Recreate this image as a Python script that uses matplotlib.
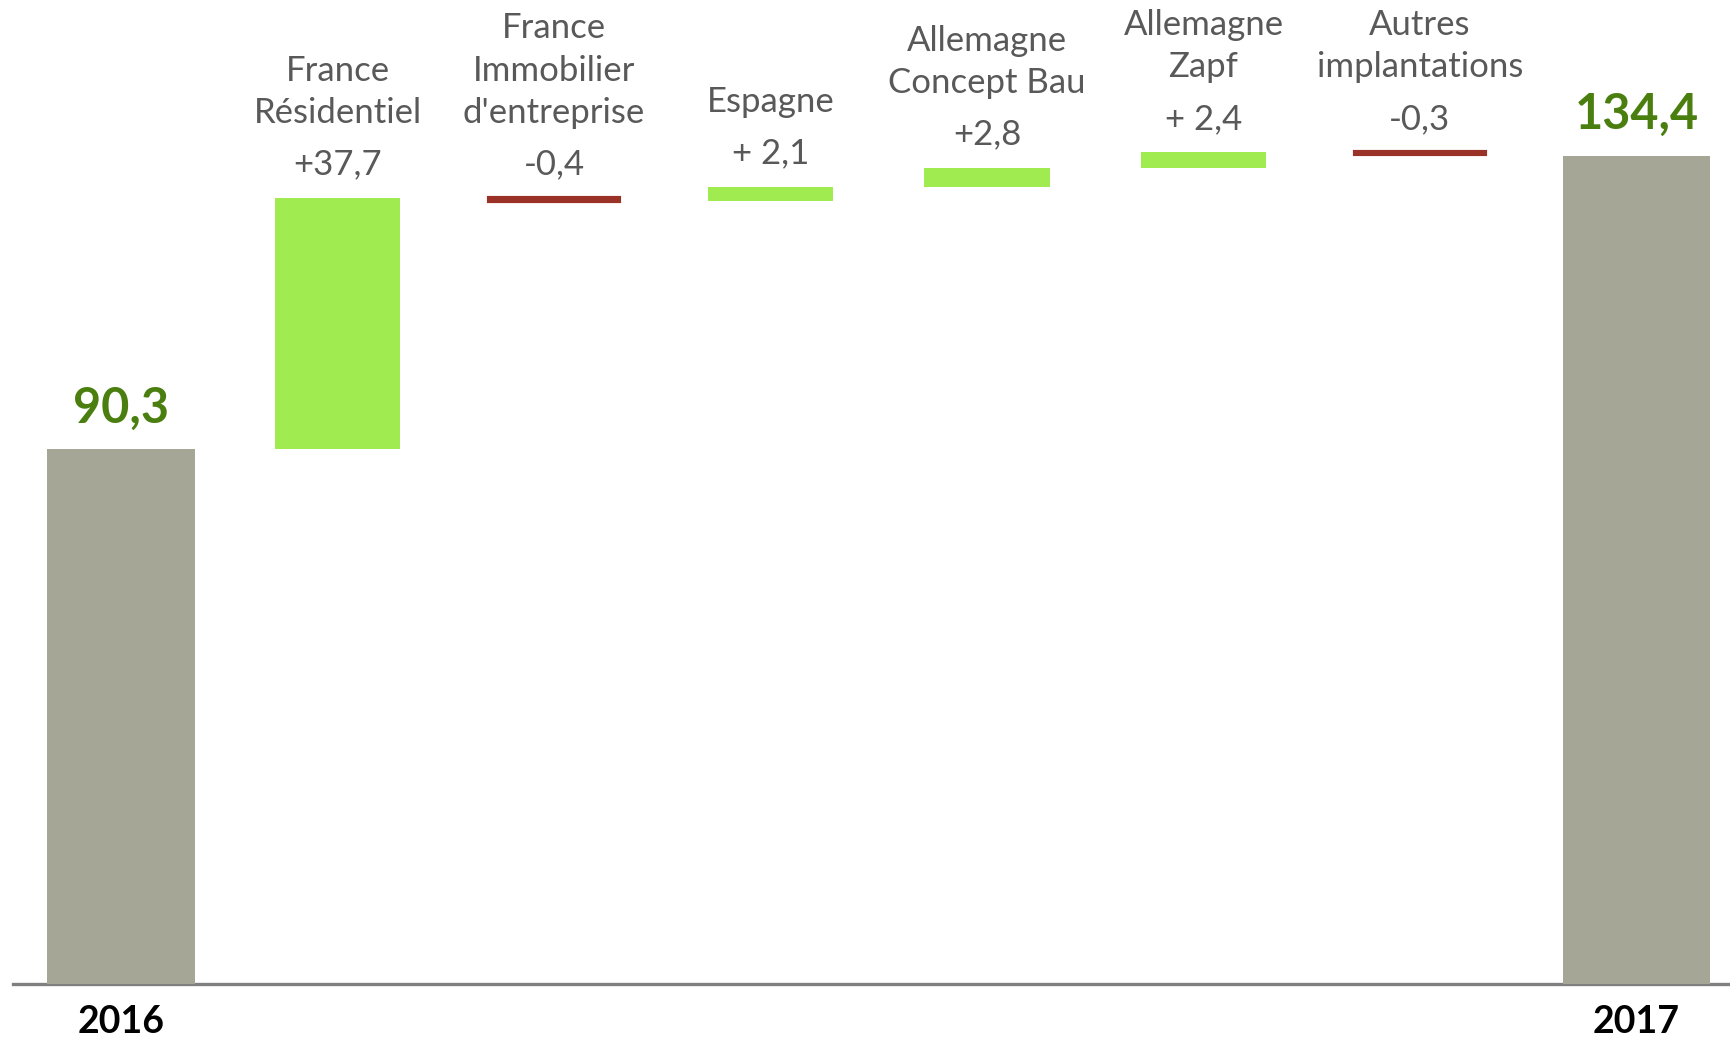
import matplotlib.pyplot as plt
import numpy as np

plt.rcParams['font.family'] = ['Lato', 'DejaVu Sans']

# Waterfall data (millions)
start_label = '2016'
end_label = '2017'
start_value = 90.3
end_value = 134.4
steps = ['France\nRésidentiel', 'France\nImmobilier\nd\'entreprise', 'Espagne',
         'Allemagne\nConcept Bau', 'Allemagne\nZapf', 'Autres\nimplantations']
deltas = [37.7, -0.4, 2.1, 2.8, 2.4, -0.3]
delta_labels = ['+37,7', '-0,4', '+ 2,1', '+2,8', '+ 2,4', '-0,3']
total_labels = ['90,3', '134,4']

grey = '#a6a696'
green = '#a0eb50'
red = '#9b3228'
dark_green = '#4a7f10'
text_grey = '#595959'

fig = plt.figure(figsize=(17.3, 10.39), dpi=100)
ax = fig.add_axes([0.0075, 0.0529, 0.9925, 0.9471])

n = len(steps) + 2
x = np.arange(n)

# Totals
ax.bar([0, n - 1], [start_value, end_value], width=0.68, color=grey, zorder=2)
for xi, v, lab in zip([0, n - 1], [start_value, end_value], total_labels):
    ax.annotate(lab, (xi, v), xytext=(0, 19), textcoords='offset points',
                ha='center', va='baseline', fontsize=35, fontweight='bold',
                color=dark_green)

# Steps
cum = start_value
for i, (name, d, lab) in enumerate(zip(steps, deltas, delta_labels)):
    xi = x[i + 1]
    if d >= 0:
        ax.bar(xi, d, bottom=cum, width=0.58, color=green, zorder=2)
        top = cum + d
    else:
        ax.bar(xi, -d, bottom=cum + d, width=0.6, color=red, edgecolor=red,
               linewidth=3, zorder=2)
        top = cum
    ax.annotate(lab, (xi, top), xytext=(0, 17), textcoords='offset points',
                ha='center', va='baseline', fontsize=25, color=text_grey)
    ax.annotate(name, (xi, top), xytext=(0, 54), textcoords='offset points',
                ha='center', va='baseline', fontsize=25, color=text_grey,
                linespacing=1.4, multialignment='center')
    cum += d

ax.set_xlim(-0.499, 7.432)
ax.set_ylim(9.9, 157.8)
for s in ['left', 'right', 'top']:
    ax.spines[s].set_visible(False)
ax.spines['bottom'].set_color('#808080')
ax.spines['bottom'].set_linewidth(2.4)
ax.spines['bottom'].set_zorder(1)
ax.set_yticks([])
ax.set_xticks([0, n - 1], [start_label, end_label])
ax.tick_params(axis='x', length=0, pad=15, labelsize=27, labelcolor='black')
for t in ax.get_xticklabels():
    t.set_fontweight('bold')

fig.savefig('out.png', dpi=100)
